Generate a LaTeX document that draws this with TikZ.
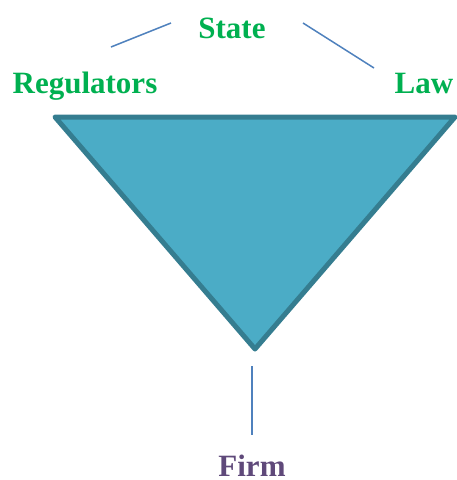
\documentclass[tikz,border=0pt]{standalone}
\usepackage{fontspec}
\setmainfont{Liberation Serif}
\definecolor{labelgreen}{HTML}{00B050}
\definecolor{firmpurple}{HTML}{5F497A}
\definecolor{wedgefill}{HTML}{4BACC6}
\definecolor{wedgeedge}{HTML}{357D90}
\definecolor{linkblue}{HTML}{4F81BD}
\begin{document}
\begin{tikzpicture}[x=1pt,y=-1pt,
  lbl/.style={font=\bfseries\fontsize{31}{31}\selectfont, anchor=base, inner sep=0pt},
  link/.style={draw=linkblue, line width=1.5pt}]
\useasboundingbox (0,0) rectangle (457,480);
% inverted triangle
\coordinate (tl) at (55,117);
\coordinate (tr) at (455,117);
\coordinate (bt) at (255,349);
\draw[fill=wedgefill, draw=wedgeedge, line width=5pt, line join=round] (tl) -- (tr) -- (bt) -- cycle;
% labels
\node[lbl, text=labelgreen] (state) at (232,38) {State};
\node[lbl, text=labelgreen] (reg) at (85,93) {Regulators};
\node[lbl, text=labelgreen] (law) at (424,93) {Law};
\node[lbl, text=firmpurple] (firm) at (252,476) {Firm};
% connecting strokes
\coordinate (l1) at (111,47);
\coordinate (l2) at (171,23);
\coordinate (r1) at (303,23);
\coordinate (r2) at (374,68);
\coordinate (v1) at (252,366);
\coordinate (v2) at (252,435);
\draw[link] (l1) -- (l2);
\draw[link] (r1) -- (r2);
\draw[link] (v1) -- (v2);
\end{tikzpicture}
\end{document}
